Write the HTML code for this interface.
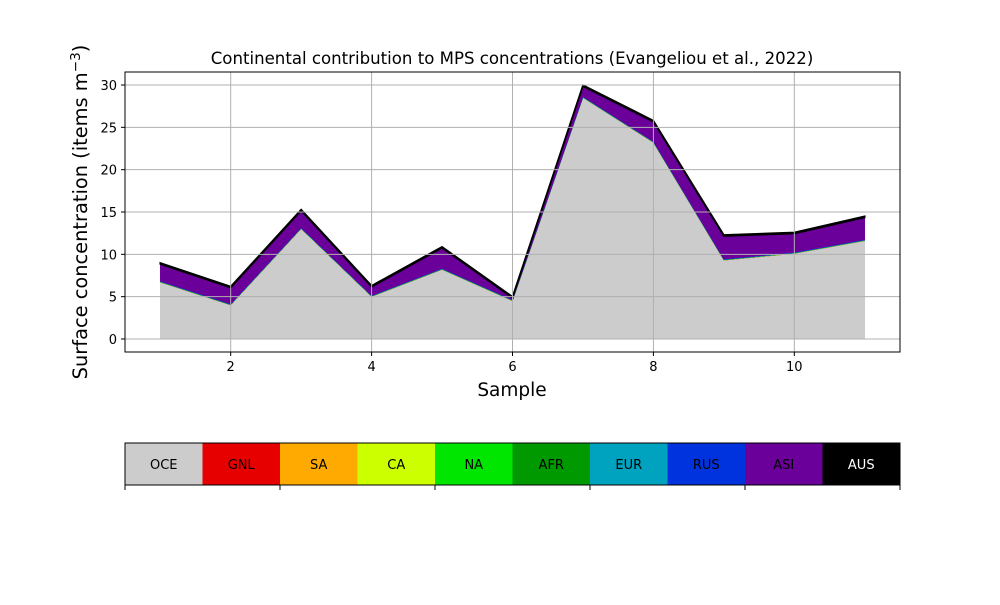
<!DOCTYPE html>
<html><head><meta charset="utf-8"><style>
body{margin:0;background:#fff}
svg text{font-family:"DejaVu Sans","Liberation Sans",sans-serif}
</style></head><body>
<svg id="chart" width="1000" height="600" viewBox="0 0 1000 600">
<rect width="1000" height="600" fill="#fff"/>
<g id="fills"></g>
<g id="grid"></g>
<rect x="125" y="72" width="775" height="280" fill="none" stroke="#000" stroke-width="1"/>
<g id="ticks"></g>
<text x="512" y="64" text-anchor="middle" font-size="16.6">Continental contribution to MPS concentrations (Evangeliou et al., 2022)</text>
<text x="512" y="396" text-anchor="middle" font-size="18.5">Sample</text>
<text transform="translate(87,212) rotate(-90)" text-anchor="middle" font-size="19.4">Surface concentration (items m<tspan dy="-7" font-size="13.6">−3</tspan><tspan dy="7">)</tspan></text>
<g id="cbar"></g>
</svg>
<script>
const samples=[1,2,3,4,5,6,7,8,9,10,11];
const oce=[6.7,4.0,13.0,5.0,8.2,4.5,28.5,23.2,9.3,10.1,11.6];
const total=[9.0,6.2,15.3,6.3,10.9,5.0,30.0,25.8,12.3,12.6,14.5];
const regions=["OCE","GNL","SA","CA","NA","AFR","EUR","RUS","ASI","AUS"];
const colors=["#cccccc","#e60000","#ffaa00","#ccff00","#00e600","#009900","#00a3bf","#0033dd","#6a0099","#000000"];
const minorLayer=[0.01,0.01,0.01,0.01,0.01,0.04,0.04];
const ausLayer=[0.15,0.15,0.15,0.15,0.15,0.15,0.15,0.15,0.15,0.15,0.15];
const xTicks=[2,4,6,8,10];
const yTicks=[0,5,10,15,20,25,30];
const NS="http://www.w3.org/2000/svg";
const X=v=>125+(v-0.5)/11*775;
const Y=v=>339-v*(254/30);
function mk(t,a,p){const e=document.createElementNS(NS,t);for(const k in a)e.setAttribute(k,a[k]);p.appendChild(e);return e;}
const layers=[oce.slice()];
for(let k=0;k<7;k++)layers.push(samples.map(()=>minorLayer[k]));
const asi=samples.map((_,i)=>Math.max(0,total[i]-oce[i]-minorLayer.reduce((a,b)=>a+b,0)-ausLayer[i]));
layers.push(asi);layers.push(ausLayer.slice());
const fills=document.getElementById('fills');
let base=samples.map(()=>0);
layers.forEach((L,k)=>{
  const top=base.map((b,i)=>b+L[i]);
  let d='M'+samples.map((s,i)=>X(s)+','+Y(top[i])).join('L');
  for(let i=samples.length-1;i>=0;i--)d+='L'+X(samples[i])+','+Y(base[i]);
  d+='Z';
  const p=mk('path',{d:d,fill:colors[k],stroke:colors[k],'stroke-width':k==9?1.5:0.5},fills);
  
  
  base=top;
});
const grid=document.getElementById('grid'),ticks=document.getElementById('ticks');
xTicks.forEach(t=>{
  const l=mk('line',{x1:X(t),x2:X(t),y1:72,y2:352,stroke:'#b0b0b0','stroke-width':1},grid);
  
  
  mk('line',{x1:X(t),x2:X(t),y1:352,y2:356,stroke:'#000'},ticks);
  const tx=mk('text',{x:X(t),y:371,'text-anchor':'middle','font-size':13},ticks);
  tx.textContent=t;
  
  
});
yTicks.forEach(t=>{
  const l=mk('line',{x1:125,x2:900,y1:Y(t),y2:Y(t),stroke:'#b0b0b0','stroke-width':1},grid);
  
  
  mk('line',{x1:121,x2:125,y1:Y(t),y2:Y(t),stroke:'#000'},ticks);
  const tx=mk('text',{x:117,y:Y(t)+5,'text-anchor':'end','font-size':13},ticks);
  tx.textContent=t;
  
  
});
const cb=document.getElementById('cbar');
const w=775/regions.length;
regions.forEach((r,k)=>{
  const rc=mk('rect',{x:125+k*w,y:443,width:w+0.5,height:42,fill:colors[k]},cb);
  
  
  const tx=mk('text',{x:125+k*w+w/2,y:469,'text-anchor':'middle','font-size':13,fill:k==9?'#fff':'#000'},cb);
  tx.textContent=r;
  
  
});
mk('rect',{x:125,y:443,width:775,height:42,fill:'none',stroke:'#000','stroke-width':1},cb);
for(let i=0;i<=5;i++)mk('line',{x1:125+i*155,x2:125+i*155,y1:485,y2:490,stroke:'#000'},cb);
</script>
</body></html>
